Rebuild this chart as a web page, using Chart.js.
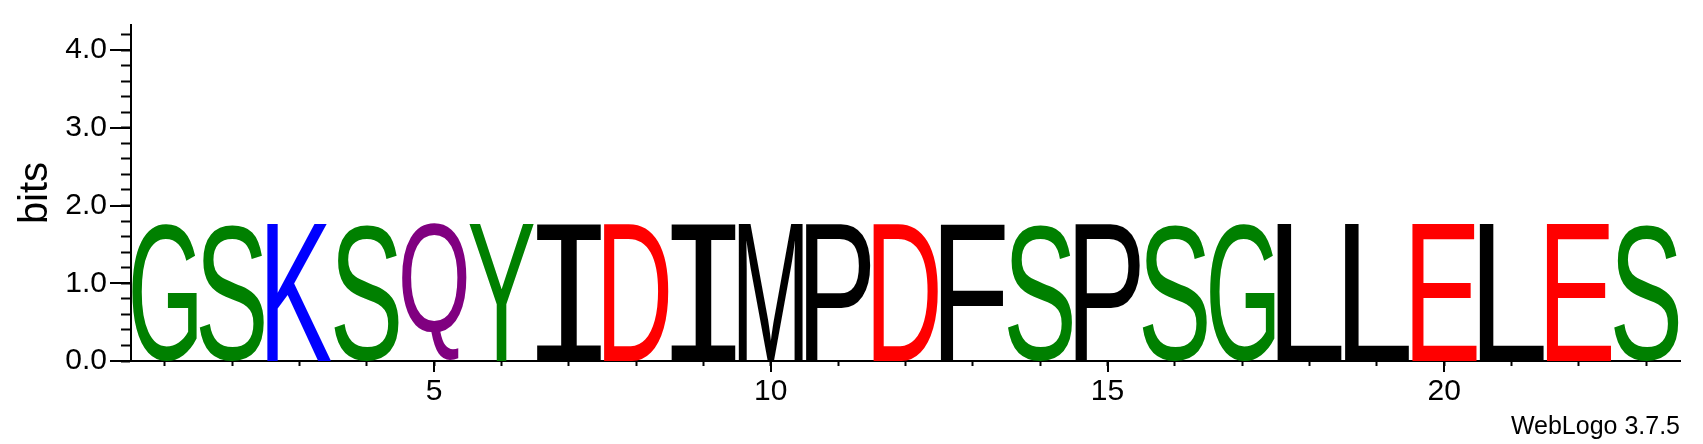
<!DOCTYPE html>
<html>
<head>
<meta charset="utf-8">
<script src="https://cdn.jsdelivr.net/npm/chart.js@4.4.0/dist/chart.umd.min.js"></script>
<style>
html, body { margin: 0; padding: 0; background: #fff; }
#logo { display: block; }
</style>
</head>
<body>
<canvas id="logo" width="1703" height="444"></canvas>
<script>
// sequence positions and the residue stacked at each one
var positions = [1, 2, 3, 4, 5, 6, 7, 8, 9, 10, 11, 12, 13, 14, 15, 16, 17, 18, 19, 20, 21, 22, 23];
var residues = ["G", "S", "K", "S", "Q", "Y", "I", "D", "I", "M", "P", "D", "F", "S", "P", "S", "G", "L", "L", "E", "L", "E", "S"];
// stack height in bits
var bits = [1.77, 1.77, 1.77, 1.77, 1.77, 1.77, 1.77, 1.77, 1.77, 1.77, 1.77, 1.77,
            1.77, 1.77, 1.77, 1.77, 1.77, 1.77, 1.77, 1.77, 1.77, 1.77, 1.77];

// axis ticks
var yMax = 4.3219; // log2(20)
var yTicks = [0, 0.2, 0.4, 0.6, 0.8, 1, 1.2, 1.4, 1.6, 1.8, 2, 2.2, 2.4, 2.6, 2.8, 3, 3.2, 3.4, 3.6, 3.8, 4, 4.2];
var yMajor = [0, 1, 2, 3, 4];
var yLabels = ["0.0", "1.0", "2.0", "3.0", "4.0"];
var xMajor = [5, 10, 15, 20];

// weblogo protein colour scheme
var colours = {
  G: "#008000", S: "#008000", T: "#008000", Y: "#008000", C: "#008000",
  Q: "#800080", N: "#800080",
  K: "#0000ff", R: "#0000ff", H: "#0000ff",
  D: "#ff0000", E: "#ff0000",
  A: "#000000", V: "#000000", L: "#000000", I: "#000000", P: "#000000",
  W: "#000000", F: "#000000", M: "#000000"
};

Chart.defaults.font.family = '"Liberation Sans", Arial, sans-serif';
Chart.defaults.color = "#000";

// stretch each residue glyph over its bar
var letters = {
  id: "letters",
  afterDatasetsDraw: function(chart) {
    var ctx = chart.ctx;
    chart.getDatasetMeta(0).data.forEach(function(bar, i) {
      var p = bar.getProps(["x", "y", "base", "width"], true);
      var ch = residues[i];
      ctx.save();
      ctx.font = ch === "I" ? '200px "DejaVu Sans Mono"' : '200px "Liberation Sans"';
      var m = ctx.measureText(ch);
      var gw = m.actualBoundingBoxLeft + m.actualBoundingBoxRight;
      var gh = m.actualBoundingBoxAscent + m.actualBoundingBoxDescent;
      var w = p.width - 3, h = p.base - p.y;
      ctx.translate(p.x - w / 2, p.y);
      ctx.scale(w / gw, h / gh);
      ctx.fillStyle = colours[ch];
      ctx.textAlign = "left";
      ctx.textBaseline = "alphabetic";
      ctx.fillText(ch, m.actualBoundingBoxLeft, m.actualBoundingBoxAscent);
      ctx.restore();
    });
  }
};

// longer ticks at the labelled values
var majorTicks = {
  id: "majorTicks",
  afterDraw: function(chart) {
    var ctx = chart.ctx, a = chart.chartArea;
    var xs = chart.scales.x, ys = chart.scales.y;
    ctx.save();
    ctx.strokeStyle = "#000";
    ctx.lineWidth = 2;
    ctx.beginPath();
    xMajor.forEach(function(v) {
      var px = Math.round(xs.getPixelForValue(v));
      ctx.moveTo(px, a.bottom);
      ctx.lineTo(px, a.bottom + 11);
    });
    yMajor.forEach(function(v) {
      var py = Math.round(ys.getPixelForValue(v));
      ctx.moveTo(a.left, py);
      ctx.lineTo(a.left - 21, py);
    });
    ctx.stroke();
    ctx.restore();
  }
};

new Chart(document.getElementById("logo"), {
  type: "bar",
  data: {
    datasets: [{
      data: positions.map(function(p, i) { return { x: p, y: bits[i] }; }),
      backgroundColor: "rgba(0,0,0,0)",
      borderWidth: 0,
      barPercentage: 1,
      categoryPercentage: 1
    }]
  },
  options: {
    responsive: false,
    animation: false,
    events: [],
    layout: { padding: { left: 0, right: 23, top: 25, bottom: 0 } },
    plugins: {
      legend: { display: false },
      tooltip: { enabled: false },
      title: {
        display: true,
        text: "WebLogo 3.7.5",
        position: "bottom",
        align: "end",
        color: "#000",
        font: { size: 25, weight: "normal" },
        padding: { top: 0, bottom: 2 }
      }
    },
    scales: {
      x: {
        type: "linear",
        offset: false,
        min: 0.5,
        max: 23.5,
        afterBuildTicks: function(s) { s.ticks = positions.map(function(v) { return { value: v }; }); },
        afterFit: function(s) { s.height = 51; s.paddingLeft = 0; s.paddingRight = 0; },
        grid: { offset: false, drawOnChartArea: false, tickLength: 5, tickColor: "#000", tickWidth: 2 },
        border: { color: "#000", width: 2 },
        ticks: {
          maxRotation: 0,
          autoSkip: false,
          padding: 8,
          font: { size: 30 },
          callback: function(v) { return xMajor.indexOf(v) >= 0 ? String(v) : ""; }
        }
      },
      y: {
        min: 0,
        max: yMax,
        afterBuildTicks: function(s) { s.ticks = yTicks.map(function(v) { return { value: v }; }); },
        afterFit: function(s) { s.width = 131; s.paddingTop = 0; s.paddingBottom = 0; },
        grid: { drawOnChartArea: false, tickLength: 10, tickColor: "#000", tickWidth: 2 },
        border: { color: "#000", width: 2 },
        ticks: {
          autoSkip: false,
          padding: 14,
          font: { size: 30 },
          callback: function(v) { var k = yMajor.indexOf(v); return k >= 0 ? yLabels[k] : ""; }
        },
        title: {
          display: true,
          text: "bits",
          font: { size: 40 },
          padding: { top: 12, bottom: 0 }
        }
      }
    }
  },
  plugins: [letters, majorTicks]
});
</script>
</body>
</html>
